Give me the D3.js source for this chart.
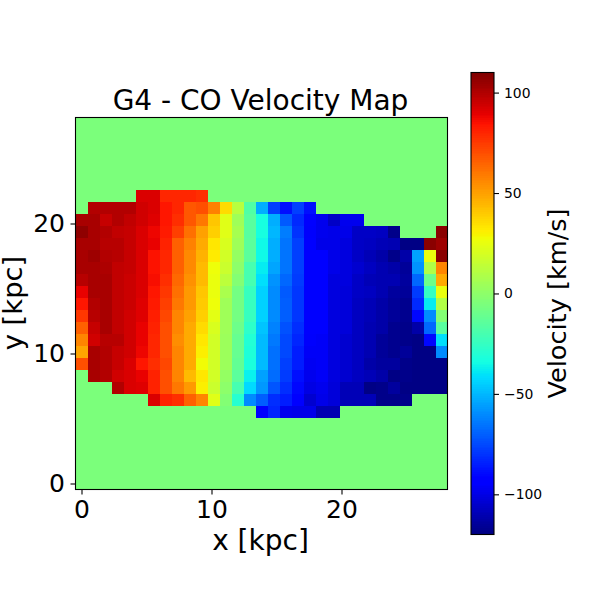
<!DOCTYPE html>
<html><head><meta charset="utf-8">
<script src="https://cdn.jsdelivr.net/npm/d3@7"></script>
<style>html,body{margin:0;padding:0;background:#fff}svg{display:block}text{font-family:"DejaVu Sans";fill:#000}</style>
</head><body><svg id="c" width="600" height="600"></svg>
<script>
const titleText = "G4 - CO Velocity Map";
const xLabel = "x [kpc]", yLabel = "y [kpc]", cbLabel = "Velocity [km/s]";
const xTicks = [0, 10, 20], yTicks = [0, 10, 20];
const cbTicks = [-100, -50, 0, 50, 100];
const cellKpc = 12 / 13;
const vMin = -120, vMax = 110;
const bg = -5;
// rows from the top of the map; -5 is the empty background
const _ = bg;
const velocityRows = [
[_,_,_,_,_,_,_,_,_,_,_,_,_,_,_,_,_,_,_,_,_,_,_,_,_,_,_,_,_,_,_],
[_,_,_,_,_,_,_,_,_,_,_,_,_,_,_,_,_,_,_,_,_,_,_,_,_,_,_,_,_,_,_],
[_,_,_,_,_,_,_,_,_,_,_,_,_,_,_,_,_,_,_,_,_,_,_,_,_,_,_,_,_,_,_],
[_,_,_,_,_,_,_,_,_,_,_,_,_,_,_,_,_,_,_,_,_,_,_,_,_,_,_,_,_,_,_],
[_,_,_,_,_,_,_,_,_,_,_,_,_,_,_,_,_,_,_,_,_,_,_,_,_,_,_,_,_,_,_],
[_,_,_,_,_,_,_,_,_,_,_,_,_,_,_,_,_,_,_,_,_,_,_,_,_,_,_,_,_,_,_],
[_,_,_,_,_,92,92,80,80,80,78,_,_,_,_,_,_,_,_,_,_,_,_,_,_,_,_,_,_,_,_],
[_,100,100,100,100,94,92,84,80,68,70,58,36,12,-17,-52,-77,-88,-77,-88,_,_,_,_,_,_,_,_,_,_,_],
[102,102,96,100,97,94,91,84,78,68,60,41,23,5,-15,-33,-52,-71,-82,-94,-98,-106,-98,-98,_,_,_,_,_,_,_],
[107,102,100,97,96,92,88,83,74,62,50,39,23,7,-15,-33,-50,-63,-80,-95,-98,-99,-99,-106,-106,-107,-118,_,_,_,108],
[102,102,99,99,96,92,89,81,66,58,48,33,21,5,-14,-35,-52,-65,-77,-94,-99,-99,-101,-106,-107,-109,-110,-119,-119,108,104],
[102,104,100,99,96,92,85,80,66,56,46,32,19,2,-14,-35,-52,-65,-77,-94,-94,-99,-101,-106,-109,-112,-118,-112,-55,26,108],
[102,102,101,97,96,92,85,80,66,56,44,27,17,0,-20,-38,-54,-65,-77,-94,-94,-99,-101,-104,-107,-110,-112,-115,-58,10,57],
[99,102,102,97,95,92,86,78,64,54,44,26,13,-3,-20,-41,-58,-68,-78,-94,-94,-101,-101,-106,-109,-110,-110,-114,-68,-9,48],
[89,102,102,97,95,92,84,76,62,52,41,26,8,-7,-24,-44,-60,-71,-79,-94,-94,-101,-102,-106,-107,-110,-114,-115,-78,-25,26],
[84,100,102,97,95,91,83,74,60,52,40,27,5,-7,-24,-44,-60,-70,-79,-94,-94,-101,-102,-107,-109,-112,-115,-117,-82,-38,10],
[76,99,102,97,94,91,82,72,57,50,39,24,5,-7,-24,-44,-60,-70,-79,-94,-94,-101,-102,-107,-109,-112,-115,-117,-90,-60,-3],
[66,96,102,97,94,89,81,70,57,48,36,21,5,-9,-27,-47,-62,-73,-81,-94,-94,-101,-102,-107,-110,-112,-117,-118,-112,-68,-15],
[57,94,99,99,94,89,80,70,55,48,33,19,4,-11,-30,-49,-64,-75,-83,-95,-96,-101,-104,-107,-110,-115,-117,-118,-119,-90,-41],
[49,102,100,96,94,88,80,70,57,48,31,19,4,-11,-31,-49,-66,-75,-85,-96,-96,-101,-104,-107,-110,-115,-117,-115,-119,-119,-60],
[70,102,100,96,92,84,78,72,57,48,28,19,4,-12,-32,-49,-66,-77,-85,-97,-96,-101,-104,-107,-112,-114,-114,-118,-119,-119,-119],
[_,102,100,94,92,89,81,70,57,44,33,19,2,-14,-37,-55,-67,-78,-88,-98,-96,-101,-104,-107,-109,-112,-119,-118,-119,-119,-119],
[_,_,_,100,92,91,81,70,60,52,31,17,0,-20,-42,-57,-72,-81,-90,-100,-98,-102,-109,-109,-119,-118,-114,-119,-119,-119,-119],
[_,_,_,_,_,_,92,81,78,66,57,23,-3,-29,-60,-70,-81,-85,-92,-104,-99,-102,-109,-109,-109,-118,-118,-118,_,_,_],
[_,_,_,_,_,_,_,_,_,_,_,_,_,_,_,-93,-83,-98,-99,-99,-110,-110,_,_,_,_,_,_,_,_,_],
[_,_,_,_,_,_,_,_,_,_,_,_,_,_,_,_,_,_,_,_,_,_,_,_,_,_,_,_,_,_,_],
[_,_,_,_,_,_,_,_,_,_,_,_,_,_,_,_,_,_,_,_,_,_,_,_,_,_,_,_,_,_,_],
[_,_,_,_,_,_,_,_,_,_,_,_,_,_,_,_,_,_,_,_,_,_,_,_,_,_,_,_,_,_,_],
[_,_,_,_,_,_,_,_,_,_,_,_,_,_,_,_,_,_,_,_,_,_,_,_,_,_,_,_,_,_,_],
[_,_,_,_,_,_,_,_,_,_,_,_,_,_,_,_,_,_,_,_,_,_,_,_,_,_,_,_,_,_,_],
[_,_,_,_,_,_,_,_,_,_,_,_,_,_,_,_,_,_,_,_,_,_,_,_,_,_,_,_,_,_,_]
];

const left = 75.5, right = 447.5, top_ = 117.5, bottom = 489.5;
const nRows = velocityRows.length, nCols = velocityRows[0].length;
const x = d3.scaleLinear().domain([-cellKpc/2, (nCols-0.5)*cellKpc]).range([left, right]);
const y = d3.scaleLinear().domain([-cellKpc/2, (nRows-0.5)*cellKpc]).range([bottom, top_]);

// jet
const rS = d3.scaleLinear().domain([0,.35,.66,.89,1]).range([0,0,1,1,.5]).clamp(true);
const gS = d3.scaleLinear().domain([0,.125,.375,.64,.91,1]).range([0,0,1,1,0,0]).clamp(true);
const bS = d3.scaleLinear().domain([0,.11,.34,.65,1]).range([.5,1,1,0,0]).clamp(true);
const tS = d3.scaleLinear().domain([vMin, vMax]).range([0,1]);
const color = v => { const t = tS(v); return d3.rgb(rS(t)*255, gS(t)*255, bS(t)*255).formatHex(); };

const svg = d3.select("#c");
const cells = velocityRows.flatMap((r,i) => r.map((v,j) => ({v, j, i})));
svg.append("g").attr("shape-rendering","crispEdges").selectAll("rect").data(cells).join("rect")
  .attr("x", d => x((d.j-0.5)*cellKpc))
  .attr("y", d => y((nRows-1-d.i+0.5)*cellKpc))
  .attr("width", d => x((d.j+0.5)*cellKpc)-x((d.j-0.5)*cellKpc))
  .attr("height", d => y((nRows-1-d.i-0.5)*cellKpc)-y((nRows-1-d.i+0.5)*cellKpc))
  .attr("fill", d => color(d.v));

const styleAxis = (g, fs) => {
  g.select(".domain").remove();
  g.selectAll("line").attr("stroke","#000").attr("stroke-width",1.1);
  g.selectAll("text").attr("font-size",fs).attr("font-family","DejaVu Sans").attr("fill","#000");
};
const fmt = d => String(d).replace("-", "\u2212");
svg.append("g").attr("transform",`translate(0,${bottom})`)
  .call(d3.axisBottom(x).tickValues(xTicks).tickSize(5).tickPadding(6).tickFormat(fmt))
  .call(g=>styleAxis(g,"25px"));
svg.append("g").attr("transform",`translate(${left},0)`)
  .call(d3.axisLeft(y).tickValues(yTicks).tickSize(5).tickPadding(5.5).tickFormat(fmt))
  .call(g=>styleAxis(g,"25px"));
svg.append("rect").attr("x",left).attr("y",top_).attr("width",right-left).attr("height",bottom-top_)
  .attr("fill","none").attr("stroke","#000").attr("stroke-width",1.1);

svg.append("text").attr("x",260.5).attr("y",109.5).attr("text-anchor","middle").attr("font-size","28px").text(titleText);
svg.append("text").attr("x",260.5).attr("y",550).attr("text-anchor","middle").attr("font-size","28px").text(xLabel);
svg.append("text").attr("transform",`translate(22,303) rotate(-90)`).attr("text-anchor","middle").attr("font-size","27.4px").text(yLabel);

// colorbar
const cbL = 471, cbR = 494, cbT = 72.5, cbB = 534.5;
const cy = d3.scaleLinear().domain([vMin,vMax]).range([cbB,cbT]);
const steps = d3.range(256).map(i => vMin + (vMax-vMin)*i/256);
const dv = (vMax-vMin)/256;
svg.append("g").attr("shape-rendering","crispEdges").selectAll("rect").data(steps).join("rect")
  .attr("x",cbL).attr("width",cbR-cbL)
  .attr("y",d=>cy(d+dv)).attr("height",d=>cy(d)-cy(d+dv)+0.6)
  .attr("fill",d=>color(d+dv/2));
svg.append("g").attr("transform",`translate(${cbR},0)`)
  .call(d3.axisRight(cy).tickValues(cbTicks).tickSize(5).tickPadding(5).tickFormat(fmt))
  .call(g=>styleAxis(g,"13.9px"));
svg.append("rect").attr("x",cbL).attr("y",cbT).attr("width",cbR-cbL).attr("height",cbB-cbT)
  .attr("fill","none").attr("stroke","#000").attr("stroke-width",1.1);
svg.append("text").attr("transform",`translate(565.5,303.5) rotate(-90)`).attr("text-anchor","middle").attr("font-size","25.6px").text(cbLabel);
</script></body></html>
